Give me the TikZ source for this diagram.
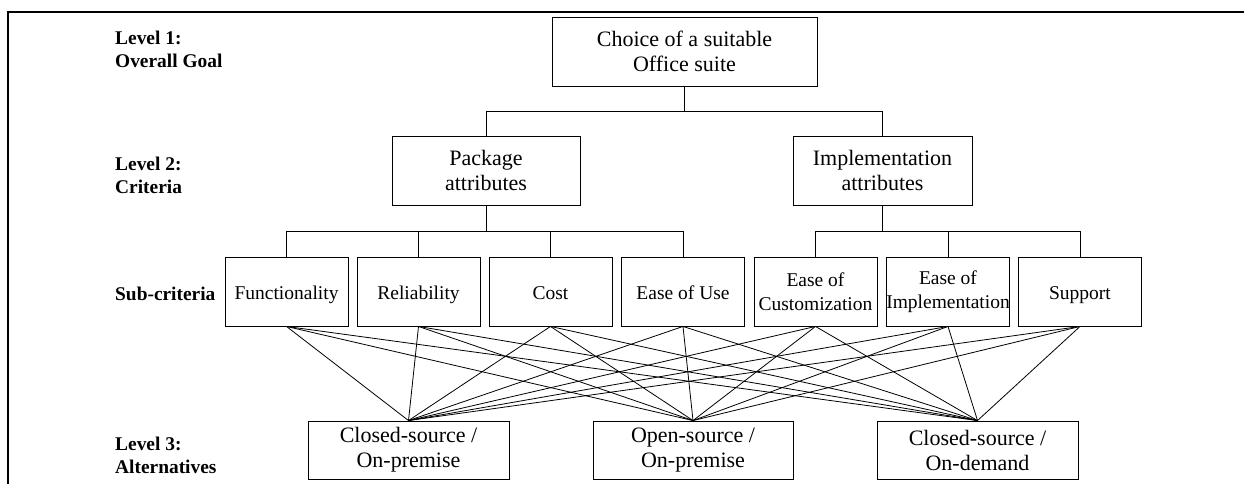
\documentclass[tikz,border=0pt]{standalone}
\usepackage{fontspec}
\setmainfont{Liberation Serif}
\begin{document}
\begin{tikzpicture}[x=1pt,y=-1pt,
  box/.style={draw, line width=0.9pt, inner sep=0pt, align=center},
  big/.style={box, font=\fontsize{22}{25}\selectfont},
  subbox/.style={box, font=\fontsize{19.5}{24}\selectfont, minimum width=123pt, minimum height=69pt},
  oneline/.style={text height=15pt, text depth=0pt},
  lbl/.style={anchor=base west, inner sep=0pt, font=\fontsize{19.4}{23}\selectfont\bfseries},
  link/.style={line width=0.8pt},
  frameline/.style={line width=2.2pt}
]
\useasboundingbox (0,0) rectangle (1244,484);
% frame
\draw[frameline] (8,484) -- (8,12) -- (1244,12);

% level labels
\node[lbl] (l1a) at (115,45) {Level 1:};
\node[lbl] (l1b) at (115,68) {Overall Goal};
\node[lbl] (l2a) at (115,170) {Level 2:};
\node[lbl] (l2b) at (115,193) {Criteria};
\node[lbl] (l2c) at (115,300) {Sub-criteria};
\node[lbl] (l3a) at (115,450) {Level 3:};
\node[lbl] (l3b) at (115,473) {Alternatives};

% goal
\node[big, minimum width=265pt, minimum height=69pt] (goal) at (684.5,51.5) {Choice of a suitable\\Office suite};

% criteria
\node[big, minimum width=188pt, minimum height=69pt] (pkg) at (486,170.5) {Package\\attributes};
\node[big, minimum width=179pt, minimum height=69pt] (impl) at (882.5,170.5) {Implementation\\attributes};

% sub-criteria
\node[subbox, oneline] (s1) at (286.5,291.5) {Functionality};
\node[subbox, oneline] (s2) at (418.5,291.5) {Reliability};
\node[subbox, oneline] (s3) at (550.5,291.5) {Cost};
\node[subbox, oneline] (s4) at (683,291.5) {Ease of Use};
\node[subbox] (s5) at (815.5,291.5) {Ease of\\Customization};
\node[subbox] (s6) at (948,291.5) {Ease of\\Implementation};
\node[subbox, oneline] (s7) at (1080,291.5) {Support};

% alternatives
\node[big, minimum width=201pt, minimum height=58pt] (a1) at (408.5,450) {Closed-source /\\On-premise};
\node[big, minimum width=200pt, minimum height=58pt] (a2) at (693,450) {Open-source /\\On-premise};
\node[big, minimum width=201pt, minimum height=58pt] (a3) at (977.5,450) {Closed-source /\\On-demand};

% tree connectors
\coordinate (j1) at (684.5,111);
\coordinate (j2) at (486,231);
\coordinate (j3) at (882.5,231);
\draw[link] (goal.south) -- (j1);
\draw[link] (pkg.north) |- (j1);
\draw[link] (impl.north) |- (j1);
\draw[link] (pkg.south) -- (j2);
\draw[link] (impl.south) -- (j3);
\foreach \s in {s1,s2,s3,s4} \draw[link] (\s.north) |- (j2);
\foreach \s in {s5,s6,s7} \draw[link] (\s.north) |- (j3);

% lattice
\foreach \s in {s1,s2,s3,s4,s5,s6,s7}
  \foreach \a in {a1,a2,a3}
    \draw[link] (\s.south) -- (\a.north);
\end{tikzpicture}
\end{document}
